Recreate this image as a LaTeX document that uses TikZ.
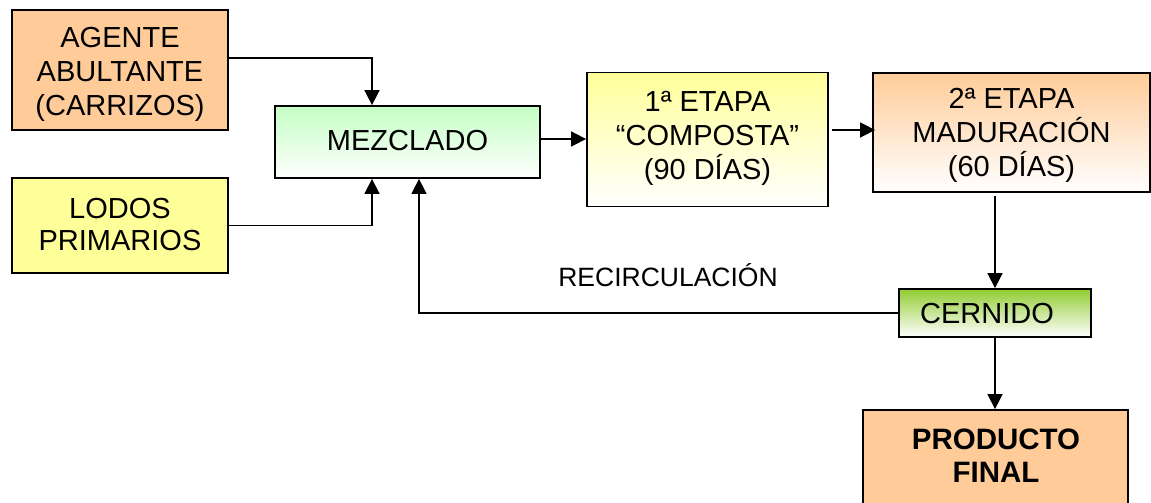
\documentclass[tikz,border=0pt]{standalone}
\usepackage{fontspec}
\setmainfont{Liberation Sans}
\usetikzlibrary{arrows.meta,calc}
\definecolor{peach}{HTML}{FFCC99}
\definecolor{lyellow}{HTML}{FFFF99}
\definecolor{lgreen}{HTML}{C4FFC4}
\definecolor{cgreen}{HTML}{92CC33}
\tikzset{
  box/.style={draw=black, line width=1.8pt, inner sep=0pt},
  txt/.style={inner sep=0pt, align=center, font=\fontsize{29}{34}\selectfont},
  conn/.style={line width=1.6pt, -{Triangle[length=15pt,width=15pt]}},
}
\begin{document}
\begin{tikzpicture}[x=1pt,y=-1pt]
\useasboundingbox (0,0) rectangle (1151,503);
\clip (0,0) rectangle (1151,503);
\node[box, fill=peach, minimum width=216pt, minimum height=120pt,
  label={[name=agentetxt, txt, yshift=-4pt]center:AGENTE\\ABULTANTE\\(CARRIZOS)}] (agente) at (120,70) {};
\node[box, fill=lyellow, minimum width=216pt, minimum height=95pt,
  label={[name=lodostxt, txt, font=\fontsize{29}{32.5}\selectfont, yshift=1pt]center:LODOS\\PRIMARIOS}] (lodos) at (120,225.5) {};
\node[box, top color=lgreen, bottom color=white, minimum width=265pt, minimum height=72pt,
  label={[name=meztxt, txt, yshift=1.5pt]center:MEZCLADO}] (mez) at (407.5,142) {};
\node[box, top color=lyellow, bottom color=white, minimum width=241pt, minimum height=134pt,
  label={[name=e1txt, txt, yshift=1pt]center:1ª ETAPA\\“COMPOSTA”\\(90 DÍAS)}] (e1) at (707.5,139.5) {};
\node[box, top color=peach, bottom color=white, minimum width=277pt, minimum height=119pt,
  label={[name=e2txt, txt, yshift=-3pt]center:2ª ETAPA\\MADURACIÓN\\(60 DÍAS)}] (e2) at (1011.5,132.5) {};
\node[box, top color=cgreen, bottom color=white, minimum width=192pt, minimum height=48pt,
  label={[name=cerntxt, txt, xshift=-8pt, yshift=-1pt]center:CERNIDO}] (cern) at (995,313) {};
\node[box, fill=peach, minimum width=265pt, minimum height=110pt] (prod) at (995.5,465) {};
\node[txt, font=\fontsize{29.5}{33}\selectfont\bfseries] (prodtxt) at (996,455.5)
  {PRODUCTO\\FINAL};
\node[inner sep=0pt, font=\fontsize{26.5}{30}\selectfont] (recirc) at (668,275) {RECIRCULACIÓN};
% connectors
\draw[conn] ([yshift=12pt]agente.east) -| ([xshift=-35.5pt]mez.north);
\draw[conn] (lodos.east) -| ([xshift=-35.5pt]mez.south);
\draw[conn] ([yshift=3pt]mez.east) -- ([yshift=3pt]mez.east -| e1.west);
\draw[conn] ([shift={(3pt,9.5pt)}]e1.east) -- ([shift={(3pt,9.5pt)}]e1.east -| e2.west);
\draw[conn] ([yshift=-3pt]e2.south -| cern.north) -- (cern.north);
\draw[conn] (cern.south) -- (cern.south |- prod.north);
\draw[conn] (cern.west) -| ([xshift=11.5pt]mez.south);
\end{tikzpicture}
\end{document}
